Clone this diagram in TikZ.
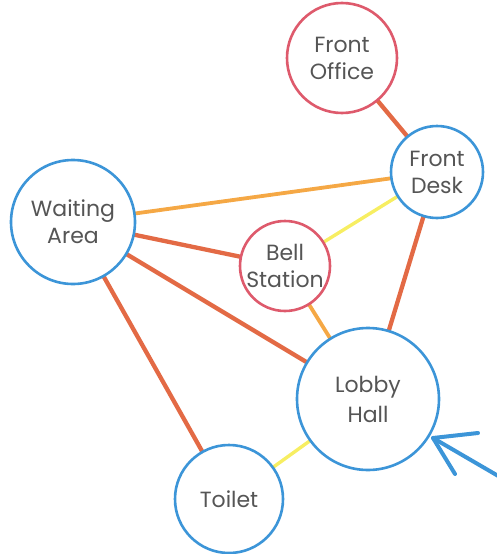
\documentclass[tikz,border=0pt]{standalone}
\usepackage{fontspec}
\setmainfont{Poppins}
\definecolor{nodeblue}{HTML}{3C95D8}
\definecolor{nodered}{HTML}{DE5A6C}
\definecolor{edgedark}{HTML}{E36A45}
\definecolor{edgelight}{HTML}{F5A845}
\definecolor{edgeyellow}{HTML}{F7EE62}
\definecolor{txt}{HTML}{555555}
\begin{document}
\begin{tikzpicture}[x=1pt,y=-1pt,
  place/.style={circle,draw=#1,line width=2.6pt,fill=white,text=txt,font=\fontsize{22}{27}\selectfont,align=center,inner sep=0pt},
  dark/.style={edgedark,line width=4.3pt},
  light/.style={edgelight,line width=3.8pt},
  yel/.style={edgeyellow,line width=3.4pt}]
\useasboundingbox (0,0) rectangle (497,554);
\coordinate (fo) at (342,58);
\coordinate (fd) at (437,172);
\coordinate (wa) at (73,222);
\coordinate (bs) at (285,266);
\coordinate (lh) at (368,399);
\coordinate (to) at (229,499);
% edges
\draw[dark] (fo) -- (fd);
\draw[light] (wa) -- (fd);
\draw[dark] (wa) -- (bs);
\draw[dark] (wa) -- (lh);
\draw[dark] (wa) -- (to);
\draw[yel] (bs) -- (fd);
\draw[light] (bs) -- (lh);
\draw[dark] (fd) -- (lh);
\draw[yel] (to) -- (lh);
% nodes
\node[place=nodered,minimum size=110pt] (FO) at (fo) {Front\\Office};
\node[place=nodeblue,minimum size=92pt] (FD) at (fd) {Front\\Desk};
\node[place=nodeblue,minimum size=124pt] (WA) at (wa) {Waiting\\Area};
\node[place=nodered,minimum size=90pt] (BS) at (bs) {Bell\\Station};
\node[place=nodeblue,minimum size=142pt] (LH) at (lh) {Lobby\\[3pt]Hall};
\node[place=nodeblue,minimum size=108pt] (TO) at (to) {Toilet};
% arrow
\coordinate (tip) at (433,438);
\coordinate (tail) at (500,477);
\coordinate (h1) at (478,433);
\coordinate (h2) at (455,474);
\draw[nodeblue,line width=4pt,line cap=round] (tail) -- (tip);
\draw[nodeblue,line width=4pt,line cap=round,line join=round] (h1) -- (tip) -- (h2);
\end{tikzpicture}
\end{document}
